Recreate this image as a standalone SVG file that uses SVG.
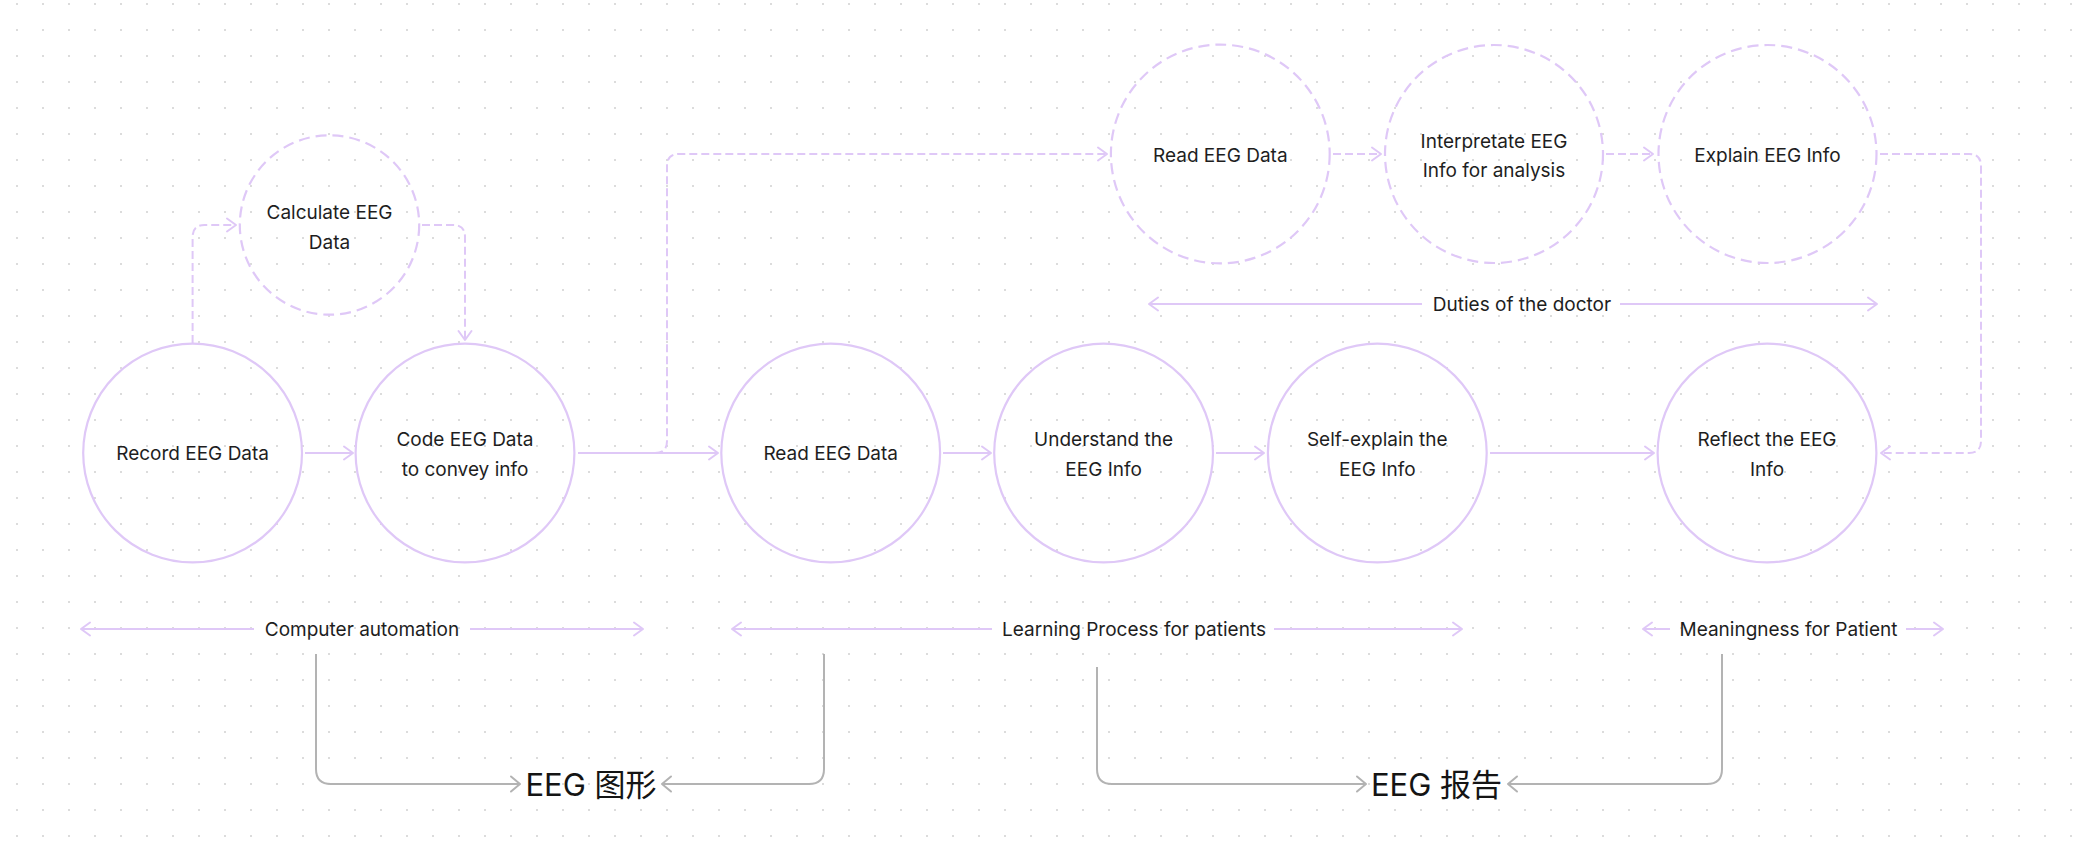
<svg xmlns="http://www.w3.org/2000/svg" width="2078" height="860" viewBox="0 0 2078 860">
<defs>
<pattern id="dots" x="0" y="0" width="26" height="26" patternUnits="userSpaceOnUse">
<circle cx="17" cy="4" r="1.1" fill="#d4d4d4"/>
</pattern>
<marker id="ap" markerUnits="userSpaceOnUse" markerWidth="14" markerHeight="16" viewBox="-11 -8 14 16" refX="0" refY="0" orient="auto">
<path d="M-9,-6.5 L0,0 L-9,6.5" fill="none" stroke="#dfc8f7" stroke-width="2" stroke-linecap="round" stroke-linejoin="round"/>
</marker>
<marker id="ag" markerUnits="userSpaceOnUse" markerWidth="14" markerHeight="18" viewBox="-11 -9 14 18" refX="0" refY="0" orient="auto">
<path d="M-9,-7.5 L0,0 L-9,7.5" fill="none" stroke="#b3b3b3" stroke-width="2" stroke-linecap="round" stroke-linejoin="round"/>
</marker>
</defs>
<style>
.n{fill:none;stroke:#dfc8f7;stroke-width:2.2}
.d{stroke-dasharray:11 6}
.c{fill:none;stroke:#dfc8f7;stroke-width:2;marker-end:url(#ap)}
.cd{stroke-dasharray:8 4}
.g{fill:none;stroke:#b3b3b3;stroke-width:2;marker-end:url(#ag)}
.t{font-family:Inter,"Liberation Sans",sans-serif;font-size:19px;fill:#1e1e1e;text-anchor:middle}
.b{font-family:Inter,"Noto Sans CJK SC","Liberation Sans",sans-serif;font-size:31px;fill:#141414;text-anchor:middle}
</style>
<rect width="2078" height="860" fill="#ffffff"/>
<rect width="2078" height="860" fill="url(#dots)"/>

<g id="connectors">
<path class="c" d="M305,453 H353"/>
<path class="c" d="M578,453 H718"/>
<path class="c" d="M943,453 H991"/>
<path class="c" d="M1216,453 H1264"/>
<path class="c" d="M1490,453 H1654"/>
<path class="c cd" d="M192.6,343 V237 Q192.6,225 204.6,225 H236"/>
<path class="c cd" d="M422,225 H453 Q465,225 465,237 V340"/>
<path class="c cd" d="M655,453 Q667,453 667,441 V166 Q667,154 679,154 H1107"/>
<path class="c cd" d="M1333,154 H1381"/>
<path class="c cd" d="M1606,154 H1653"/>
<path class="c cd" d="M1880,154 H1969 Q1981,154 1981,166 V441 Q1981,453 1969,453 H1881"/>
<path class="c" d="M1422,304 H1149"/>
<path class="c" d="M1620,304 H1877"/>
<path class="c" d="M254,629 H81"/>
<path class="c" d="M470,629 H643"/>
<path class="c" d="M992,629 H732"/>
<path class="c" d="M1274,629 H1462"/>
<path class="c" d="M1670,629 H1643"/>
<path class="c" d="M1906,629 H1943"/>
<path class="g" d="M316,654 V769 Q316,784 331,784 H520"/>
<path class="g" d="M824,654 V769 Q824,784 809,784 H662"/>
<path class="g" d="M1097,667 V769 Q1097,784 1112,784 H1366"/>
<path class="g" d="M1722,654 V769 Q1722,784 1707,784 H1508"/>
</g>

<g id="record"><circle class="n" cx="192.6" cy="453" r="109.4"/><text class="t" x="192.6" y="460">Record EEG Data</text></g>
<g id="calculate"><circle class="n d" cx="329.5" cy="225" r="89.7"/><text class="t" x="329.5" y="219">Calculate EEG</text><text class="t" x="329.5" y="248.5">Data</text></g>
<g id="code"><circle class="n" cx="465" cy="453" r="109.4"/><text class="t" x="465" y="446">Code EEG Data</text><text class="t" x="465" y="475.5">to convey info</text></g>
<g id="read-patient"><circle class="n" cx="830.7" cy="453" r="109.4"/><text class="t" x="830.7" y="460">Read EEG Data</text></g>
<g id="understand"><circle class="n" cx="1103.6" cy="453" r="109.4"/><text class="t" x="1103.6" y="446">Understand the</text><text class="t" x="1103.6" y="475.5">EEG Info</text></g>
<g id="self-explain"><circle class="n" cx="1377.3" cy="453" r="109.4"/><text class="t" x="1377.3" y="446">Self-explain the</text><text class="t" x="1377.3" y="475.5">EEG Info</text></g>
<g id="reflect"><circle class="n" cx="1767" cy="453" r="109.4"/><text class="t" x="1767" y="446">Reflect the EEG</text><text class="t" x="1767" y="475.5">Info</text></g>
<g id="read-doctor"><circle class="n d" cx="1220.3" cy="154" r="109.4"/><text class="t" x="1220.3" y="161.5">Read EEG Data</text></g>
<g id="interpretate"><circle class="n d" cx="1494" cy="154" r="109"/><text class="t" x="1494" y="147.5">Interpretate EEG</text><text class="t" x="1494" y="176.5">Info for analysis</text></g>
<g id="explain"><circle class="n d" cx="1767.5" cy="154" r="109"/><text class="t" x="1767.5" y="161.5">Explain EEG Info</text></g>

<g id="labels">
<text class="t" x="1522" y="311">Duties of the doctor</text>
<text class="t" x="362" y="636">Computer automation</text>
<text class="t" x="1134" y="636">Learning Process for patients</text>
<text class="t" x="1788.5" y="636">Meaningness for Patient</text>
</g>
<g id="eeg-graph"><text class="b" x="591" y="795.5">EEG 图形</text></g>
<g id="eeg-report"><text class="b" x="1436.5" y="795.5">EEG 报告</text></g>
</svg>
